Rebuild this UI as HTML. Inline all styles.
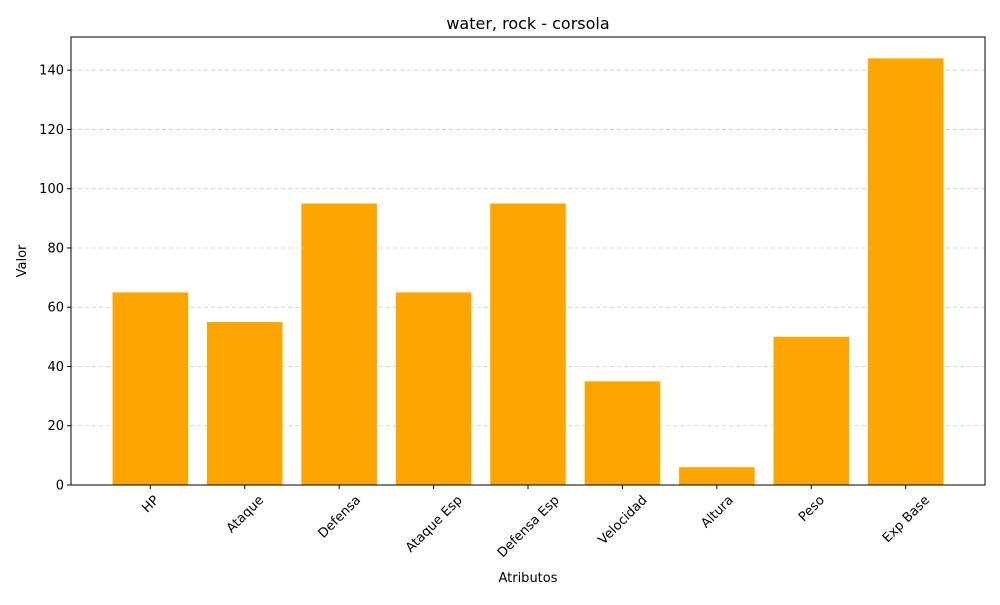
<!DOCTYPE html>
<html><head><meta charset="utf-8"><style>
html,body{margin:0;padding:0;background:#fff;}
svg text{font-family:"DejaVu Sans","Liberation Sans",sans-serif;fill:#000;}
</style></head><body>
<svg id="chart" width="1000" height="600" xmlns="http://www.w3.org/2000/svg">
<rect width="1000" height="600" fill="#fff"/>
<g id="grid"></g><g id="bars"></g><g id="xticks"></g><g id="yticks"></g>
<rect x="71" y="37" width="914" height="448" fill="none" stroke="#000" stroke-width="1"/>
<text x="528" y="29" font-size="16" text-anchor="middle">water, rock - corsola</text>
<text x="528" y="582" font-size="13" text-anchor="middle">Atributos</text>
<text x="26" y="261" font-size="13" text-anchor="middle" transform="rotate(-90 26 261)">Valor</text>
</svg>
<script>
const categories=["HP","Ataque","Defensa","Ataque Esp","Defensa Esp","Velocidad","Altura","Peso","Exp Base"];
const values=[65,55,95,65,95,35,6,50,144];
const yTicks=[0,20,40,60,80,100,120,140];
const NS="http://www.w3.org/2000/svg";
const L=71,R=985,T=37,B=485;
const yMax=Math.max(...values)*1.05;
const y=v=>B-(v/yMax)*(B-T);
const xMin=-0.4-0.05*(categories.length-0.2), xMax=categories.length-1+0.4+0.05*(categories.length-0.2);
const x=i=>L+(i-xMin)/(xMax-xMin)*(R-L);
function mk(tag,attrs,parent){const e=document.createElementNS(NS,tag);for(const k in attrs)e.setAttribute(k,attrs[k]);document.getElementById(parent).appendChild(e);return e;}
yTicks.forEach(t=>{
  const yy=y(t);
  if(t>0){const g=mk('line',{x1:L,x2:R,y1:yy,y2:yy,stroke:'#ccc','stroke-dasharray':'4,3','stroke-width':0.8},'grid');
  
  }
  const tk=mk('line',{x1:L-4,x2:L,y1:yy,y2:yy,stroke:'#000'},'yticks');
  
  
  const tx=mk('text',{x:L-7,y:yy+4.5,'font-size':13,'text-anchor':'end'},'yticks');
  tx.textContent=t;
  
  
});
const bw=(x(0.8)-x(0));
categories.forEach((c,i)=>{
  const cx=x(i);
  const b=mk('rect',{x:cx-bw/2,y:y(values[i]),width:bw,height:B-y(values[i]),fill:'#ffa500'},'bars');
  
  
  const tk=mk('line',{x1:cx,x2:cx,y1:B,y2:B+4,stroke:'#000'},'xticks');
  
  
  const tx=mk('text',{x:0,y:0,'font-size':13,'text-anchor':'middle'},'xticks');
  tx.textContent=c;
  
  
  const w=tx.getComputedTextLength(), h=13;
  const cy=B+8+(w+h)*0.7071/2;
  tx.setAttribute('transform',`translate(${cx} ${cy}) rotate(-45) translate(0 4.5)`);
});
</script>
</body></html>
